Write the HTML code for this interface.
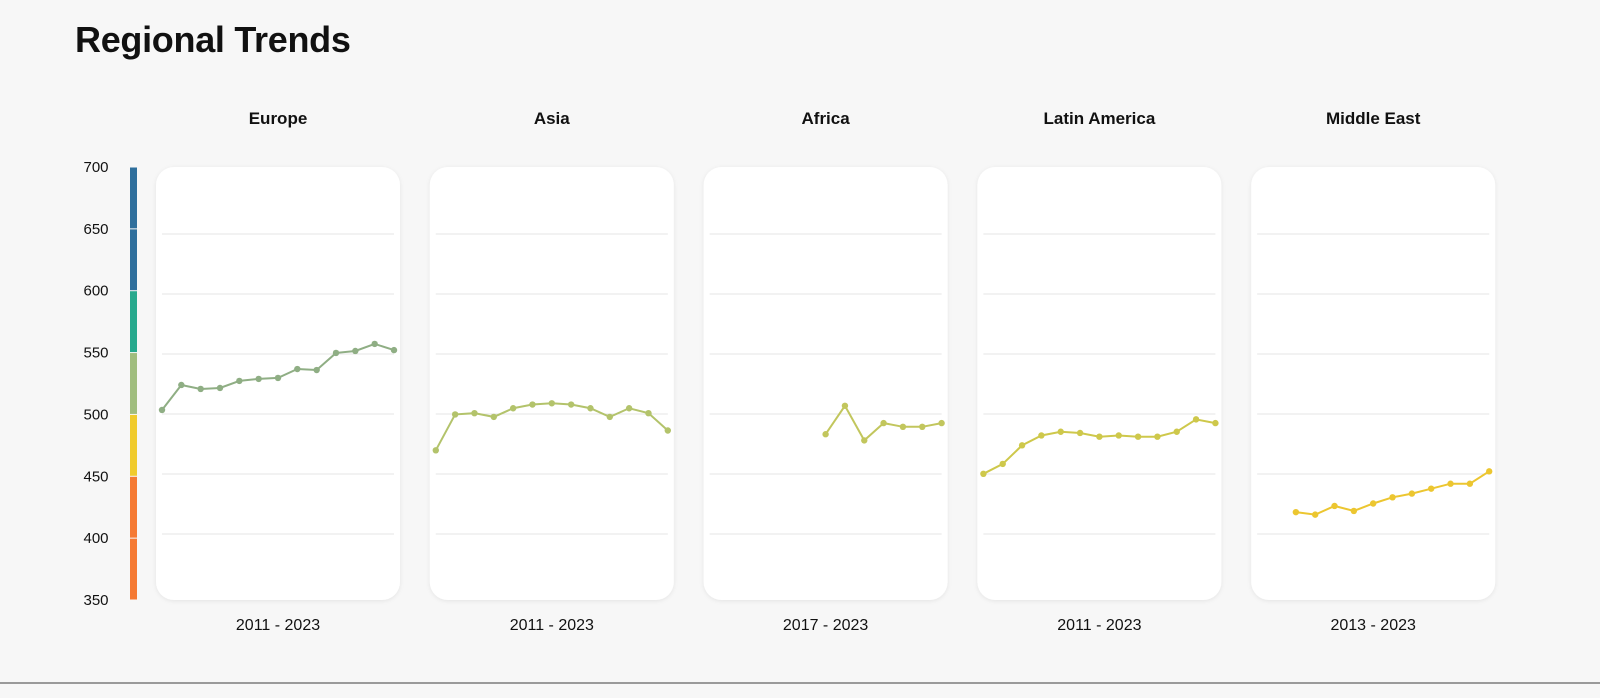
<!DOCTYPE html>
<html><head><meta charset="utf-8"><style>
body{margin:0;background:#f7f7f7;width:1600px;height:698px;overflow:hidden;font-family:"Liberation Sans",sans-serif;}
h1{position:absolute;left:75px;top:19px;margin:0;font-size:36px;font-weight:bold;color:#111;letter-spacing:-0.3px}
.bl{position:absolute;left:0;top:682px;width:1600px;height:2px;background:#9a9a9a}
</style></head><body>
<h1>Regional Trends</h1>
<svg id="c" width="1600" height="698" style="position:absolute;left:0;top:0">
<defs><filter id="sh" x="-10%" y="-10%" width="120%" height="120%"><feDropShadow dx="0" dy="1" stdDeviation="2" flood-color="#000" flood-opacity="0.08"/></filter></defs>
</svg>
<div class="bl"></div>
<script>
const regions=["Europe","Asia","Africa","Latin America","Middle East"];
const startYears=[2011,2011,2017,2011,2013];
const europe=[503.6,523.8,520.6,521.4,527.1,528.7,529.5,536.7,535.9,549.7,551.3,557,552];
const asia=[471,500,501,498,505,508,509,508,505,498,505,501,487];
const africa=[484,507,479,493,490,490,493];
const latam=[452,460,475,483,486,485,482,483,482,482,486,496,493];
const mideast=[421,419,426,422,428,433,436,440,444,444,454];
const yTicks=[700,650,600,550,500,450,400,350];
const lineColors=["#8fae84","#b3c36b","#c2c65d","#cec84b","#ecc630"];
const bandColors=[[650,700,"#2f6f9c"],[600,650,"#2f6f9c"],[550,600,"#27a98d"],[500,550,"#a0bd7e"],[450,500,"#f0cb2d"],[400,450,"#f57a34"],[350,400,"#f57a34"]];
const series=[europe,asia,africa,latam,mideast];
const NS="http://www.w3.org/2000/svg",svg=document.getElementById('c');
function y(v){return 600-(v-350)*(433/350);}
function mk(t,a,p){const e=document.createElementNS(NS,t);for(const k in a)e.setAttribute(k,a[k]);(p||svg).appendChild(e);return e;}
yTicks.forEach(v=>{const t=mk('text',{x:96,y:y(v)+5,'text-anchor':'middle','font-size':15,fill:'#111'});t.textContent=v;

});
bandColors.forEach(b=>{const r=mk('rect',{x:130,y:y(b[1])+0.5,width:7,height:y(b[0])-y(b[1])-1,fill:b[2]});

});
regions.forEach((name,i)=>{
 const px=156+i*273.8;
 const g=mk('g',{});
 
 
 mk('rect',{x:px,y:167,width:244,height:433,rx:18,fill:'#fff',filter:'url(#sh)'},g);
 for(let k=0;k<6;k++)mk('line',{x1:px+6,x2:px+238,y1:234+k*60,y2:234+k*60,stroke:'#e4e4e4','stroke-width':1},g);
 const t=mk('text',{x:px+122,y:124,'text-anchor':'middle','font-size':17,'font-weight':'bold',fill:'#111'},g);t.textContent=name;
 
 
 const d=series[i],sy=startYears[i];
 const b=mk('text',{x:px+122,y:630,'text-anchor':'middle','font-size':16,fill:'#111'},g);b.textContent=sy+" - "+(sy+d.length-1);
 
 
 const xs=yr=>px+6+(yr-2011)*(232/12);
 const pts=d.map((v,j)=>xs(sy+j)+","+y(v)).join(" ");
 const pl=mk('polyline',{points:pts,fill:'none',stroke:lineColors[i],'stroke-width':2},g);
 
 
 d.forEach((v,j)=>{const c=mk('circle',{cx:xs(sy+j),cy:y(v),r:3.2,fill:lineColors[i]},g);
 
 });
});
</script>
</body></html>
